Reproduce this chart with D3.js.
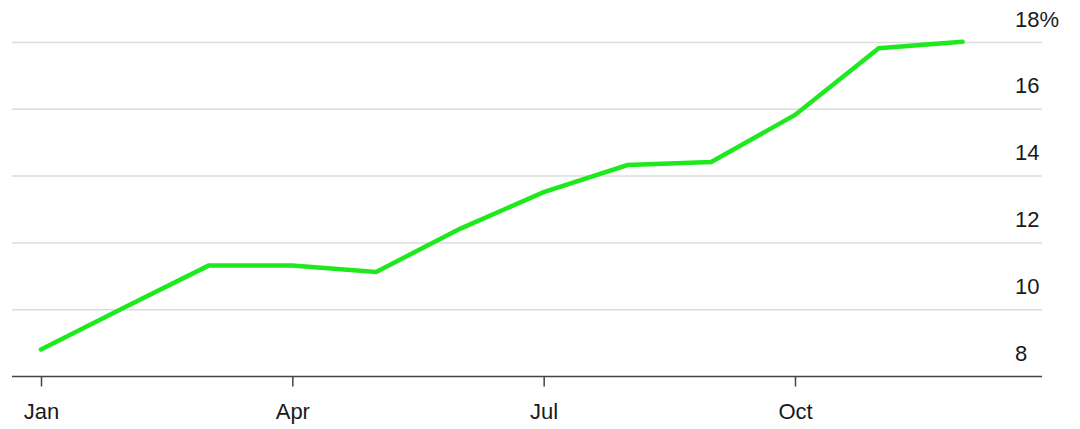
<!DOCTYPE html>
<html>
<head>
<meta charset="utf-8">
<script src="https://cdn.jsdelivr.net/npm/d3@7"></script>
<style>
  html, body { margin: 0; padding: 0; background: #fff; }
  svg { display: block; }
  text { font-family: "Liberation Sans", Arial, sans-serif; }
</style>
</head>
<body>
<svg id="chart" width="1080" height="429"></svg>
<script>
const months = ["Jan","Feb","Mar","Apr","May","Jun","Jul","Aug","Sep","Oct","Nov","Dec"];
const values = [8.81, 10.07, 11.32, 11.32, 11.13, 12.42, 13.52, 14.33, 14.42, 15.83, 17.83, 18.02];
const xTickMonths = ["Jan","Apr","Jul","Oct"];
const yTicks = [8, 10, 12, 14, 16, 18];

const svg = d3.select("#chart");
const x = d3.scaleLinear().domain([0, 9]).range([41, 795]);
const y = d3.scaleLinear().domain([8, 18]).range([376.5, 42.5]);
const left = 12, right = 1042;

// gridlines
svg.append("g").selectAll("line")
  .data(yTicks.filter(d => d !== 8))
  .join("line")
  .attr("x1", left).attr("x2", right)
  .attr("y1", d => y(d)).attr("y2", d => y(d))
  .attr("stroke", "#dcdcdc").attr("stroke-width", 1.5);

// y labels
svg.append("g").selectAll("text")
  .data(yTicks)
  .join("text")
  .attr("x", 1015)
  .attr("y", d => y(d) - 16)
  .attr("font-size", 22)
  .attr("fill", "#1a1a1a")
  .text(d => d === 18 ? d + "%" : d);

// x axis
const xAxis = d3.axisBottom(x)
  .tickValues(xTickMonths.map(m => months.indexOf(m)))
  .tickFormat(i => months[i])
  .tickSize(10);
const gx = svg.append("g").attr("transform", `translate(0,${y(8)})`).call(xAxis);
gx.select(".domain").remove();
gx.selectAll(".tick line").attr("stroke", "#444").attr("stroke-width", 1.5);
gx.selectAll(".tick text")
  .attr("dy", null)
  .attr("y", 42.5)
  .attr("font-size", 22).attr("fill", "#1a1a1a")
  .style("font-family", "'Liberation Sans', Arial, sans-serif");
svg.append("line")
  .attr("x1", left).attr("x2", right)
  .attr("y1", y(8)).attr("y2", y(8))
  .attr("stroke", "#444").attr("stroke-width", 1.5);

// line
const line = d3.line().x((d, i) => x(i)).y(d => y(d));
svg.append("path")
  .datum(values)
  .attr("d", line)
  .attr("fill", "none")
  .attr("stroke", "#1ee81e")
  .attr("stroke-width", 4.5)
  .attr("stroke-linejoin", "miter")
  .attr("stroke-linecap", "round");
</script>
</body>
</html>
